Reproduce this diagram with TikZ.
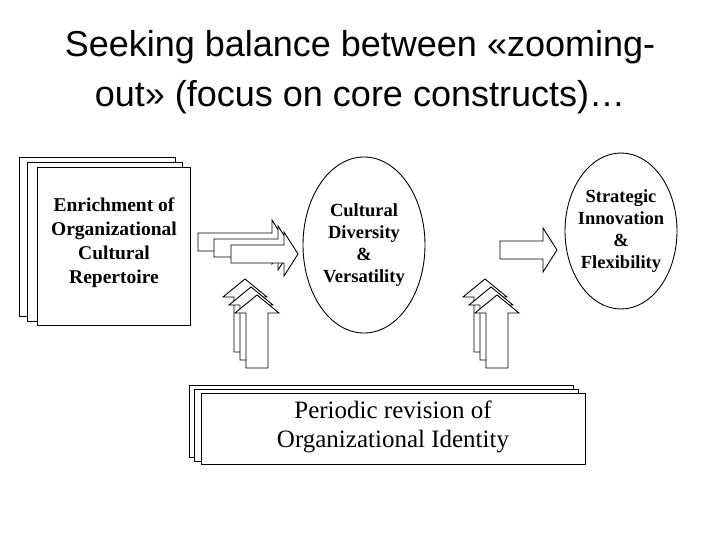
\documentclass[tikz,border=0pt]{standalone}
\usepackage{fontspec}
\usetikzlibrary{shapes.geometric}
\setmainfont{Liberation Serif}
\newfontfamily\titlefont{Liberation Sans}
\tikzset{box/.style={draw,fill=white,line width=0.9pt},
 lbl/.style={align=center,inner sep=0pt}}
\newcommand\rarrow[3]{% x, y center, tip x
 \draw[box] (#1,#2-9) -- (#3-14,#2-9) -- (#3-14,#2-22) -- (#3,#2) -- (#3-14,#2+22) -- (#3-14,#2+9) -- (#1,#2+9) -- cycle;}
\newcommand\uarrow[3]{% center x, apex y, bottom y
 \draw[box] (#1-11,#3) -- (#1-11,#2+18) -- (#1-22,#2+18) -- (#1,#2) -- (#1+22,#2+18) -- (#1+11,#2+18) -- (#1+11,#3) -- cycle;}
\begin{document}
\begin{tikzpicture}[x=1pt,y=-1pt]
\useasboundingbox (0,0) rectangle (720,540);
\node[font=\titlefont\fontsize{36}{50}\selectfont,align=center] (title) at (360,72) {Seeking balance between «zooming-\\out» (focus on core constructs)…};
\draw[box] (19,157) rectangle (175,316);
\draw[box] (27,162) rectangle (182,321);
\draw[box] (37,167) rectangle (190,325);
\node[lbl,font=\fontsize{19.5}{24}\bfseries\selectfont] (enrich) at (114,243) {Enrichment of\\Organizational\\Cultural\\Repertoire};
\rarrow{198}{242}{286}
\rarrow{214}{248}{292}
\rarrow{231}{254}{298}
\uarrow{245}{279}{352}
\uarrow{251}{287}{360}
\uarrow{257}{295}{368}
\uarrow{485}{279}{352}
\uarrow{491}{287}{360}
\uarrow{497}{295}{368}
\node[draw,ellipse,line width=0.9pt,minimum width=122pt,minimum height=176pt,inner sep=0pt] (div) at (364,245) {};
\node[lbl,font=\fontsize{18.5}{22}\bfseries\selectfont] at (div.center) {Cultural\\Diversity\\\&\\Versatility};
\node[draw,ellipse,line width=0.9pt,minimum width=112pt,minimum height=156pt,inner sep=0pt] (inn) at (621,231) {};
\node[lbl,font=\fontsize{18.5}{22}\bfseries\selectfont] at (inn.center) {Strategic\\Innovation\\\&\\Flexibility};
\rarrow{500}{250}{557}
\draw[box] (189,385) rectangle (573,457);
\draw[box] (194,389) rectangle (578,461);
\draw[box] (201,393) rectangle (585,464);
\node[lbl,font=\fontsize{25}{29}\selectfont] (rev) at (393,427) {Periodic revision of\\Organizational Identity};
\end{tikzpicture}
\end{document}
